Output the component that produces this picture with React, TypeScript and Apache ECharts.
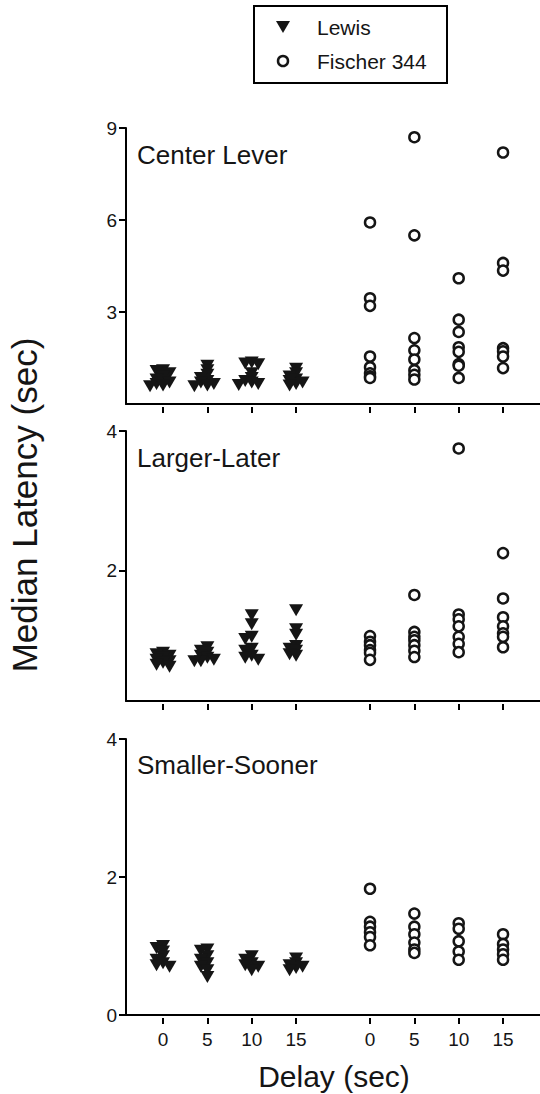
import React, { useEffect, useRef } from 'react';
import * as echarts from 'echarts';

// ---------- data ----------
const delays = [0, 5, 10, 15];
const lewisPos = [1, 2, 3, 4];
const fischerPos = [5.667, 6.667, 7.667, 8.667];
const strains = ['Lewis', 'Fischer 344'];
const panelTitles = ['Center Lever', 'Larger-Later', 'Smaller-Sooner'];
const yMins = [0, 0.13, 0];
const yMaxes = [9, 4, 4];
const yTicks = [[3, 6, 9], [2, 4], [0, 2, 4]];

const lewisCenter = [
  [1.1, 1.08, 1.0, 0.9, 0.8, 0.75, 0.7, 0.65, 0.6, 0.58],
  [1.25, 1.1, 0.95, 0.85, 0.75, 0.7, 0.65, 0.6, 0.58],
  [1.35, 1.32, 1.3, 1.0, 0.85, 0.75, 0.7, 0.65, 0.62],
  [1.15, 1.0, 0.9, 0.8, 0.75, 0.7, 0.65, 0.6],
];
const fischerCenter = [
  [5.92, 3.45, 3.2, 1.55, 1.2, 1.0, 0.9, 0.85],
  [8.7, 5.5, 2.15, 1.75, 1.45, 1.1, 0.95, 0.8],
  [4.1, 2.75, 2.35, 1.85, 1.7, 1.3, 1.25, 0.85],
  [8.2, 4.6, 4.35, 1.82, 1.72, 1.55, 1.17],
];

const lewisLL = [
  [0.82, 0.8, 0.78, 0.75, 0.72, 0.7, 0.68, 0.65, 0.62],
  [0.9, 0.85, 0.82, 0.78, 0.75, 0.72, 0.7, 0.7],
  [1.36, 1.23, 1.05, 1.02, 0.88, 0.85, 0.78, 0.75, 0.72],
  [1.43, 1.16, 1.08, 0.92, 0.88, 0.85, 0.8, 0.78],
];
const fischerLL = [
  [1.06, 0.98, 0.93, 0.86, 0.82, 0.72],
  [1.65, 1.12, 1.05, 1.0, 0.93, 0.85, 0.76],
  [3.75, 1.37, 1.3, 1.2, 1.05, 0.95, 0.83],
  [2.25, 1.6, 1.33, 1.2, 1.1, 1.05, 0.9],
];

const lewisSS = [
  [1.0, 0.97, 0.92, 0.85, 0.8, 0.75, 0.72, 0.7],
  [0.95, 0.93, 0.85, 0.8, 0.75, 0.7, 0.65, 0.55],
  [0.85, 0.8, 0.75, 0.72, 0.7, 0.65],
  [0.82, 0.75, 0.72, 0.7, 0.68, 0.65],
];
const fischerSS = [
  [1.83, 1.35, 1.28, 1.2, 1.13, 1.01],
  [1.47, 1.28, 1.17, 1.05, 0.95, 0.9],
  [1.33, 1.25, 1.07, 0.92, 0.8],
  [1.17, 1.03, 0.95, 0.88, 0.8],
];

const lewisPanels = [lewisCenter, lewisLL, lewisSS];
const fischerPanels = [fischerCenter, fischerLL, fischerSS];

// ---------- layout ----------
const W = 540;
const H = 1094;
const FONT = '"Liberation Sans", Arial, Helvetica, sans-serif';
const INK = '#151515';
const GRID_LEFT = 126;
const X_MIN = 0.165;
const X_MAX = 9.5;
const grids = [
  { top: 128, height: 276 },
  { top: 431, height: 270 },
  { top: 739, height: 276 },
];
const titleCenters = [157, 460, 767];
const TRI = 'path://M0,0 L14,0 L7,12 Z';

const pxPerX = (W - GRID_LEFT) / (X_MAX - X_MIN);

// horizontal spreading of overlapping markers (column scatter)
function swarm(values: number[], center: number, pxPerY: number, stepPx: number, dyMin: number, dxMin: number) {
  const placed: { x: number; y: number }[] = [];
  const out: number[][] = [];
  const order = values.map((_, i) => i).sort((a, b) => values[b] - values[a]);
  for (const i of order) {
    const y = values[i] * pxPerY;
    let chosen = 0;
    for (const k of [0, -1, 1, -2, 2, -3, 3]) {
      const x = k * stepPx;
      if (placed.every((p) => Math.abs(p.x - x) >= dxMin || Math.abs(p.y - y) >= dyMin)) {
        chosen = x;
        break;
      }
    }
    placed.push({ x: chosen, y });
    out.push([center + chosen / pxPerX, values[i]]);
  }
  return out;
}

const allPos = [...lewisPos, ...fischerPos];

export default function App() {
  const ref = useRef<HTMLDivElement>(null);
  useEffect(() => {
    if (!ref.current) return;
    const chart = echarts.init(ref.current, null, { renderer: 'svg' });

    const xAxis: any[] = [];
    const yAxis: any[] = [];
    const series: any[] = [];

    grids.forEach((g, gi) => {
      const pxPerY = g.height / (yMaxes[gi] - yMins[gi]);
      xAxis.push({
        type: 'value', gridIndex: gi, min: X_MIN, max: X_MAX, position: 'bottom',
        axisLine: { show: true, lineStyle: { color: '#000', width: 2 } },
        axisTick: { show: false }, axisLabel: { show: false }, splitLine: { show: false },
      });
      xAxis.push({
        type: 'value', gridIndex: gi, min: X_MIN, max: X_MAX, position: 'bottom', offset: 3,
        axisLine: { show: false },
        axisTick: { show: true, length: 6, lineStyle: { color: '#000', width: 2 }, customValues: allPos },
        axisLabel: {
          show: gi === 2, customValues: allPos, margin: 12,
          fontSize: 19, fontFamily: FONT, color: INK,
          formatter: (v: number) => {
            const i = allPos.findIndex((p) => Math.abs(p - v) < 1e-6);
            return i >= 0 ? String(delays[i % 4]) : '';
          },
        },
        splitLine: { show: false },
      });
      yAxis.push({
        type: 'value', gridIndex: gi, min: yMins[gi], max: yMaxes[gi],
        axisLine: { show: true, lineStyle: { color: '#000', width: 2 } },
        axisTick: { show: true, length: 7, lineStyle: { color: '#000', width: 2 }, customValues: yTicks[gi] },
        axisLabel: {
          margin: 9, fontSize: 19, fontFamily: FONT, color: INK, customValues: yTicks[gi],
          formatter: (v: number) => String(v),
        },
        splitLine: { show: false },
      });

      const lewisData: number[][] = [];
      lewisPanels[gi].forEach((vals, di) => {
        lewisData.push(...swarm(vals, lewisPos[di], pxPerY, 6.5, 4.5, 6.5));
      });
      const fischerData: number[][] = [];
      fischerPanels[gi].forEach((vals, di) => {
        vals.forEach((v) => fischerData.push([fischerPos[di], v]));
      });

      series.push({
        type: 'scatter', name: strains[0], xAxisIndex: gi * 2, yAxisIndex: gi,
        symbol: TRI, symbolSize: [14, 12], data: lewisData,
        itemStyle: { color: INK, opacity: 1 },
      });
      series.push({
        type: 'scatter', name: strains[1], xAxisIndex: gi * 2, yAxisIndex: gi,
        symbol: 'circle', symbolSize: 10, data: fischerData,
        itemStyle: { color: '#fff', borderColor: INK, borderWidth: 2.5, opacity: 1 },
      });
    });

    chart.setOption({
      animation: false,
      backgroundColor: '#fff',
      grid: grids.map((g) => ({ left: GRID_LEFT, top: g.top, height: g.height, right: 0 })),
      xAxis,
      yAxis,
      series,
      title: panelTitles.map((t, i) => ({
        text: t, left: 137, top: titleCenters[i] - 15, padding: 0,
        textStyle: { fontSize: 26, fontWeight: 'normal', fontFamily: FONT, color: INK },
      })),
      graphic: [
        // legend box
        {
          type: 'rect', shape: { x: 254, y: 6, width: 193, height: 77 },
          style: { fill: '#fff', stroke: '#000', lineWidth: 2 },
        },
        {
          type: 'polygon', shape: { points: [[276, 21], [290, 21], [283, 33]] },
          style: { fill: INK },
        },
        {
          type: 'circle', shape: { cx: 283, cy: 61, r: 5 },
          style: { fill: '#fff', stroke: INK, lineWidth: 2.5 },
        },
        {
          type: 'text', x: 317, y: 27,
          style: { text: strains[0], font: `21px ${FONT}`, fill: INK, textVerticalAlign: 'middle' },
        },
        {
          type: 'text', x: 317, y: 61,
          style: { text: strains[1], font: `21px ${FONT}`, fill: INK, textVerticalAlign: 'middle' },
        },
        {
          type: 'text', x: 334, y: 1076,
          style: { text: 'Delay (sec)', font: `30px ${FONT}`, fill: INK, textAlign: 'center', textVerticalAlign: 'middle' },
        },
        {
          type: 'text', x: 24, y: 505, rotation: Math.PI / 2,
          style: { text: 'Median Latency (sec)', font: `35px ${FONT}`, fill: INK, textAlign: 'center', textVerticalAlign: 'middle' },
        },
      ],
    });
    return () => chart.dispose();
  }, []);
  return <div ref={ref} style={{ position: 'fixed', left: 0, top: 0, width: W, height: H }} />;
}
